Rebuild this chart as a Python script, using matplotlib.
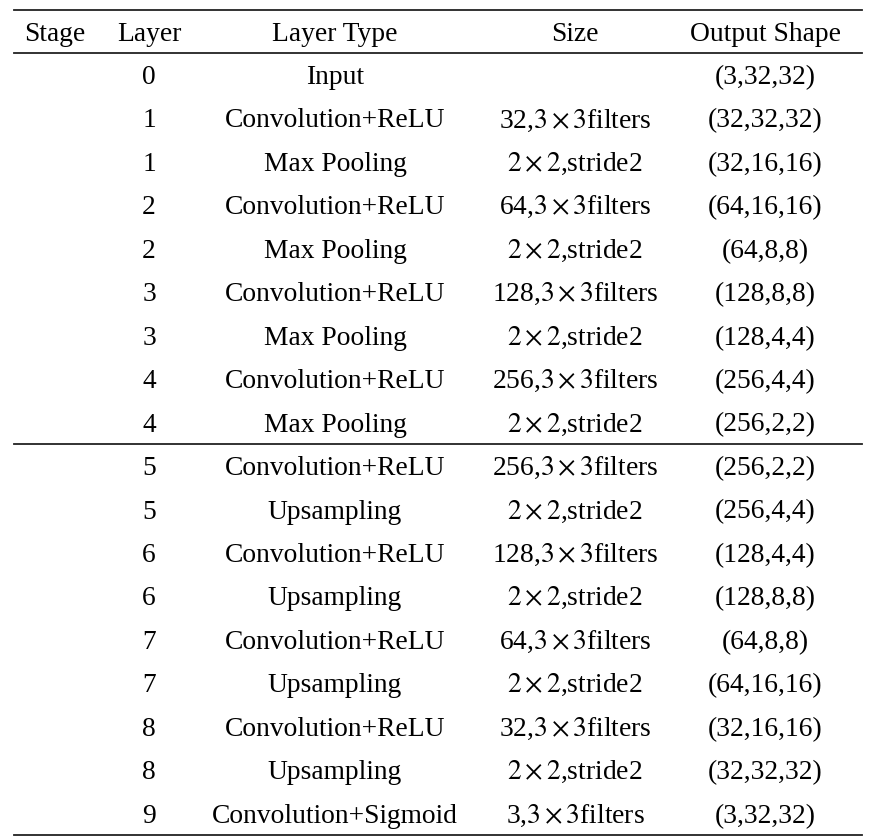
import matplotlib
matplotlib.use('Agg')
from matplotlib import pyplot as plt

headers = ['Stage', 'Layer', 'Layer Type', 'Size', 'Output Shape']
layers = ['0', '1', '1', '2', '2', '3', '3', '4', '4',
          '5', '5', '6', '6', '7', '7', '8', '8', '9']
layer_types = ['Input', 'Convolution+ReLU', 'Max Pooling', 'Convolution+ReLU', 'Max Pooling',
               'Convolution+ReLU', 'Max Pooling', 'Convolution+ReLU', 'Max Pooling',
               'Convolution+ReLU', 'Upsampling', 'Convolution+ReLU', 'Upsampling',
               'Convolution+ReLU', 'Upsampling', 'Convolution+ReLU', 'Upsampling',
               'Convolution+Sigmoid']
sizes = ['', '32,$3\\times3$filters', '$2\\times2$,stride2', '64,$3\\times3$filters', '$2\\times2$,stride2',
         '128,$3\\times3$filters', '$2\\times2$,stride2', '256,$3\\times3$filters', '$2\\times2$,stride2',
         '256,$3\\times3$filters', '$2\\times2$,stride2', '128,$3\\times3$filters', '$2\\times2$,stride2',
         '64,$3\\times3$filters', '$2\\times2$,stride2', '32,$3\\times3$filters', '$2\\times2$,stride2',
         '3,$3\\times3$filters']
shapes = ['(3,32,32)', '(32,32,32)', '(32,16,16)', '(64,16,16)', '(64,8,8)',
          '(128,8,8)', '(128,4,4)', '(256,4,4)', '(256,2,2)',
          '(256,2,2)', '(256,4,4)', '(128,4,4)', '(128,8,8)',
          '(64,8,8)', '(64,16,16)', '(32,16,16)', '(32,32,32)', '(3,32,32)']

plt.rcParams['font.family'] = ['Liberation Serif', 'DejaVu Serif']
plt.rcParams['mathtext.fontset'] = 'stix'

fig = plt.figure(figsize=(8.76, 8.38), dpi=100)
ax = fig.add_axes([0, 0, 1, 1])
ax.set_xlim(0, 876)
ax.set_ylim(838, 0)
ax.axis('off')

col_x = [55, 149, 335, 575, 765]
fs = 19.8

# header
for x, h in zip(col_x, headers):
    ax.text(x, 41, h, ha='center', va='baseline', fontsize=fs)

# rows
row0, step = 84, 43.45
for i in range(len(layers)):
    y = row0 + i * step
    for x, val in zip(col_x[1:], [layers[i], layer_types[i], sizes[i], shapes[i]]):
        ax.text(x, y, val, ha='center', va='baseline', fontsize=fs)

# rules
for y in [10, 53, 444, 835]:
    ax.plot([14, 862], [y, y], color='#222222', lw=1.3)

fig.savefig('out.png', dpi=100)
